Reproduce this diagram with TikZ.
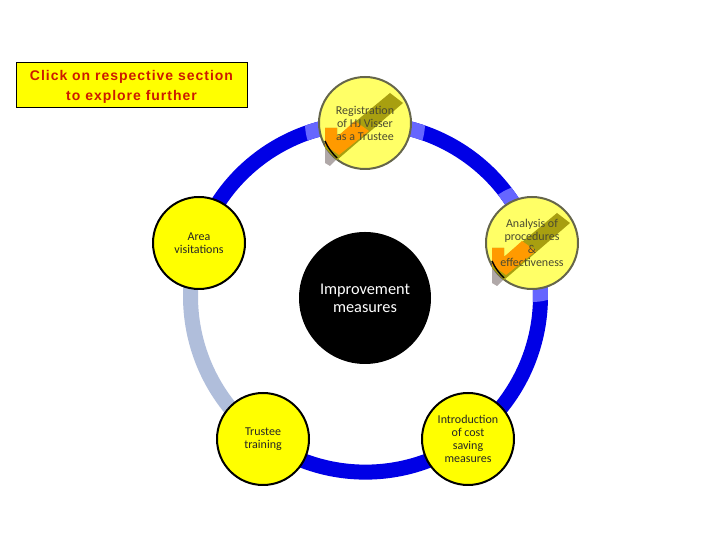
\documentclass[tikz,border=0pt]{standalone}
\usepackage{fontspec}
\setmainfont{Carlito}
\newfontfamily\boxfont[LetterSpace=7]{Liberation Sans}
\usetikzlibrary{backgrounds}
\definecolor{ringblue}{HTML}{0000E6}
\definecolor{stubblue}{HTML}{6666FF}
\definecolor{paleblue}{HTML}{B0BEDB}
\definecolor{hubyellow}{HTML}{FFFF00}
\definecolor{dimyellow}{HTML}{FFFF66}
\definecolor{dimedge}{HTML}{66664A}
\definecolor{tickolive}{HTML}{A89F10}
\definecolor{tickorange}{HTML}{FF9A00}
\definecolor{tickshadow}{HTML}{B0A8A8}
\definecolor{dimtext}{HTML}{4A4A30}
\definecolor{noticered}{HTML}{CC1A00}
\tikzset{
  x=1pt,y=1pt,
  hub/.style={circle,draw=black,line width=2pt,fill=hubyellow,minimum size=92pt,inner sep=0pt,outer sep=0pt},
  dimhub/.style={circle,draw=dimedge,line width=2pt,fill=dimyellow,minimum size=92pt,inner sep=0pt,outer sep=0pt},
  hubtext/.style={align=center,font=\fontsize{12}{13}\selectfont,text=black!85},
  dimtxt/.style={align=center,font=\fontsize{12}{13}\selectfont,text=dimtext},
  ringline/.style={line width=15pt,line cap=butt},
}
\newcommand{\tickshadowat}[2]{%
  \fill[tickshadow,shift={(#1,#2)}] (-40,-22) -- (-29,-37) -- (-35,-43) -- (-40,-40) -- cycle;}
\newcommand{\tickat}[2]{%
  \begin{scope}[shift={(#1,#2)}]
    \fill[tickolive] (25,30) -- (38,20) -- (-28,-37) -- (-40,-25) -- (-40,-5) -- (-28,-5) -- (-28,-14) -- cycle;
    \fill[tickorange] (-40,-5) -- (-28,-5) -- (-28,-14) -- (-10,2) -- (4,-8) -- (-26,-32) -- (-40,-22) -- cycle;
    \draw[black,line width=1.4pt] (-40,-18) .. controls (-37,-25) and (-33,-30) .. (-28,-35);
  \end{scope}}
\begin{document}
\begin{tikzpicture}
\useasboundingbox (0,0) rectangle (720,540);
\fill[white] (0,0) rectangle (720,540);
\coordinate (hubA) at (365,417);
\coordinate (hubB) at (532,297);
\coordinate (hubC) at (468,101);
\coordinate (hubD) at (263,101);
\coordinate (hubE) at (199,297);
% ring
\draw[ringline,ringblue] (hubE) to[out=72,in=180,looseness=0.94] (hubA);
\draw[ringline,ringblue] (hubA) to[out=0,in=108,looseness=0.94] (hubB);
\draw[ringline,ringblue] (hubB) to[out=-72,in=36,looseness=0.94] (hubC);
\draw[ringline,ringblue] (hubC) to[out=-144,in=-36,looseness=0.94] (hubD);
\draw[ringline,paleblue] (hubD) to[out=144,in=-108,looseness=0.94] (hubE);
% light stubs
\begin{scope}
  \clip (hubA) circle (60);
  \draw[ringline,stubblue] (hubE) to[out=72,in=180,looseness=0.94] (hubA);
  \draw[ringline,stubblue] (hubA) to[out=0,in=108,looseness=0.94] (hubB);
\end{scope}
\begin{scope}
  \clip (hubB) circle (59);
  \draw[ringline,stubblue] (hubA) to[out=0,in=108,looseness=0.94] (hubB);
  \draw[ringline,stubblue] (hubB) to[out=-72,in=36,looseness=0.94] (hubC);
\end{scope}
\tickshadowat{365}{417}
\tickshadowat{532}{297}
\node[dimhub] (top) at (hubA) {};
\node[dimhub] (right) at (hubB) {};
\tickat{365}{417}
\tickat{532}{297}
\node[dimtxt] (toplabel) at (hubA) {Registration\\of HJ Visser\\as a Trustee};
\node[dimtxt] (rightlabel) at (hubB) {Analysis of\\procedures\\\&\\effectiveness};
\node[hub] (intro) at (hubC) {};
\node[hubtext] (introlabel) at (hubC) {Introduction\\of cost\\saving\\measures};
\node[hub] (trustee) at (hubD) {};
\node[hubtext] (trusteelabel) at (hubD) {Trustee\\training};
\node[hub] (area) at (hubE) {};
\node[hubtext] (arealabel) at (hubE) {Area\\visitations};
\node[circle,fill=black,minimum size=132pt,inner sep=0pt,text=white,align=center,font=\fontsize{16.3}{18}\selectfont] (core) at (365,242) {Improvement\\measures};
\node[draw=black,line width=0.8pt,fill=hubyellow,minimum width=231pt,minimum height=45pt,inner sep=0pt] (notice) at (131.5,455.5) {};
\node[align=center,text=noticered,font=\boxfont\bfseries\fontsize{14}{20}\selectfont] (noticelabel) at (131.5,453) {Click on respective section\\to explore further};
\end{tikzpicture}
\end{document}
